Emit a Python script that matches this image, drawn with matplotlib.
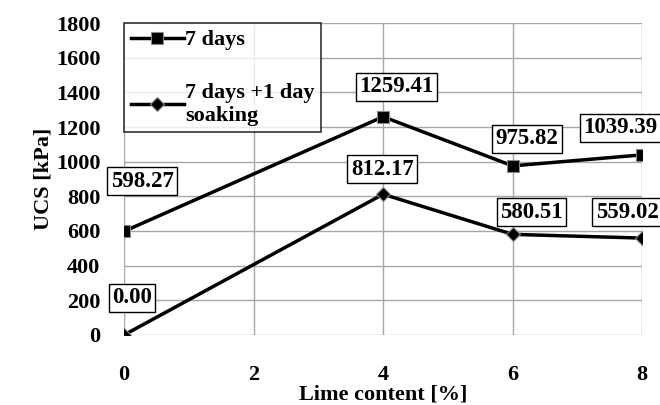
import matplotlib.pyplot as plt

# Lime content vs UCS
lime_content = [0, 2, 4, 6, 8]
x_points = [0, 4, 6, 8]
ucs_7_days = [598.27, 1259.41, 975.82, 1039.39]
ucs_7_days_soaked = [0.00, 812.17, 580.51, 559.02]

# label offsets in pixels (dx, dy) relative to each point
offsets_7_days = [(18, 50), (13, 30), (14, 27), (-22, 27)]
offsets_soaked = [(8, 37), (-1, 25), (19, 22), (-15, 26)]

plt.rcParams["font.family"] = ["Liberation Serif", "DejaVu Serif"]
plt.rcParams["font.weight"] = "bold"

fig = plt.figure(figsize=(6.6, 4.05), dpi=100)
ax = fig.add_axes([0.188, 0.173, 0.785, 0.77])

ax.plot(x_points, ucs_7_days, color="black", lw=2.5, marker="s",
        markersize=8, markerfacecolor="black", markeredgecolor="#888888",
        markeredgewidth=0.8, label="7 days", zorder=3)
ax.plot(x_points, ucs_7_days_soaked, color="black", lw=2.5, marker="D",
        markersize=7, markerfacecolor="black", markeredgecolor="#888888",
        markeredgewidth=0.8, label="7 days +1 day\nsoaking", zorder=3)

box = dict(boxstyle="square,pad=0.15", fc="white", ec="black", lw=1.0)
for xs, ys, offs in [(x_points, ucs_7_days, offsets_7_days),
                     (x_points, ucs_7_days_soaked, offsets_soaked)]:
    for x, y, (dx, dy) in zip(xs, ys, offs):
        ax.annotate(f"{y:.2f}", (x, y), xytext=(dx, dy),
                    textcoords="offset pixels", ha="center", va="center",
                    fontsize=16.5, fontweight="bold", bbox=box,
                    annotation_clip=False, zorder=4)

ax.set_xlim(0, 8)
ax.set_ylim(0, 1800)
ax.set_xticks(lime_content)
ax.set_yticks(range(0, 1801, 200))
ax.grid(True, color="#a6a6a6", lw=1.0)
ax.set_axisbelow(True)
for s in ax.spines.values():
    s.set_visible(False)
ax.tick_params(length=0, labelsize=16)
ax.tick_params(axis="y", pad=17)
ax.tick_params(axis="x", pad=22)
for lbl in ax.get_xticklabels() + ax.get_yticklabels():
    lbl.set_fontweight("bold")

ax.set_xlabel("Lime content [%]", fontsize=16, fontweight="bold", labelpad=-1)
ax.set_ylabel("UCS [kPa]", fontsize=16, fontweight="bold", labelpad=2)

leg = ax.legend(loc="upper left", bbox_to_anchor=(0, 1), borderaxespad=0,
                fontsize=16, frameon=True, fancybox=False, handlelength=2.4,
                handletextpad=0.05, labelspacing=1.45, borderpad=0.3)
leg.get_frame().set_edgecolor("black")
leg.get_frame().set_linewidth(1.2)
for t in leg.get_texts():
    t.set_fontweight("bold")

fig.savefig("out.png", dpi=100)
